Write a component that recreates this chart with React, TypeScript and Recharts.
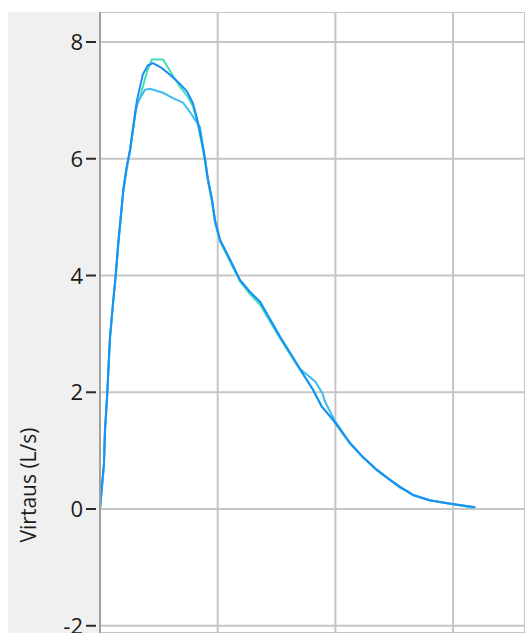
import React from 'react';
import { LineChart, Line, XAxis, YAxis, CartesianGrid } from 'recharts';

// Volume (L) on x, flow (L/s) on y — three expiration attempts
const blueVolume = [0, 0.014, 0.034, 0.042, 0.062, 0.071, 0.085, 0.113, 0.133, 0.155, 0.176, 0.198, 0.227, 0.255, 0.314, 0.365, 0.408, 0.45, 0.52, 0.595, 0.68, 0.74, 0.79, 0.833, 0.875, 0.892, 0.918, 0.952, 0.977, 1.02, 1.105, 1.19, 1.274, 1.36, 1.53, 1.70, 1.81, 1.885, 1.98, 2.124, 2.234, 2.353, 2.464, 2.549, 2.66, 2.80, 2.95, 3.19];
const blueFlow = [0, 0.34, 0.79, 1.35, 2.0, 2.38, 2.95, 3.58, 4.0, 4.56, 5.0, 5.47, 5.86, 6.15, 7.0, 7.45, 7.6, 7.64, 7.56, 7.44, 7.28, 7.15, 6.95, 6.62, 6.2, 6.0, 5.64, 5.3, 4.95, 4.61, 4.27, 3.92, 3.72, 3.55, 2.95, 2.4, 2.04, 1.75, 1.53, 1.13, 0.89, 0.67, 0.5, 0.38, 0.24, 0.15, 0.1, 0.03];

const greenVolume = [0, 0.014, 0.034, 0.042, 0.062, 0.071, 0.085, 0.113, 0.133, 0.155, 0.176, 0.198, 0.227, 0.255, 0.31, 0.34, 0.40, 0.44, 0.535, 0.68, 0.74, 0.79, 0.83, 0.87, 0.892, 0.918, 0.952, 0.977, 1.02, 1.105, 1.19, 1.274, 1.36, 1.53, 1.70, 1.81, 1.885, 1.98, 2.124, 2.234, 2.353, 2.464, 2.549, 2.62, 2.66, 2.80, 2.95, 3.17];
const greenFlow = [0, 0.3, 0.75, 1.3, 1.95, 2.35, 2.9, 3.55, 3.95, 4.5, 4.95, 5.42, 5.82, 6.12, 6.9, 7.05, 7.5, 7.7, 7.7, 7.23, 7.08, 6.9, 6.6, 6.2, 5.95, 5.6, 5.25, 4.9, 4.58, 4.24, 3.9, 3.68, 3.5, 2.92, 2.38, 2.05, 1.76, 1.52, 1.12, 0.88, 0.66, 0.5, 0.36, 0.3, 0.24, 0.15, 0.1, 0.02];

const cyanVolume = [0, 0.014, 0.034, 0.042, 0.062, 0.071, 0.085, 0.113, 0.133, 0.155, 0.176, 0.198, 0.227, 0.255, 0.3, 0.323, 0.382, 0.425, 0.535, 0.62, 0.705, 0.765, 0.807, 0.85, 0.875, 0.892, 0.918, 0.952, 0.977, 1.02, 1.105, 1.19, 1.274, 1.36, 1.53, 1.70, 1.76, 1.83, 1.89, 1.91, 1.99, 2.124, 2.234, 2.353, 2.464, 2.549, 2.66, 2.80, 2.95, 3.18];
const cyanFlow = [0, 0.34, 0.79, 1.35, 2.0, 2.38, 2.95, 3.58, 4.0, 4.56, 5.0, 5.47, 5.86, 6.15, 6.8, 6.97, 7.18, 7.2, 7.13, 7.04, 6.96, 6.8, 6.67, 6.54, 6.2, 6.0, 5.64, 5.3, 4.95, 4.61, 4.27, 3.92, 3.72, 3.55, 2.95, 2.4, 2.3, 2.18, 1.98, 1.85, 1.53, 1.13, 0.89, 0.67, 0.5, 0.38, 0.24, 0.15, 0.1, 0.03];

const yTicks = [-2, 0, 2, 4, 6, 8];
const xTicks = [0, 1, 2, 3];

const toPoints = (vol: number[], flow: number[]) => vol.map((v, i) => ({ v, f: flow[i] }));

const series = [
  { name: 'green', data: toPoints(greenVolume, greenFlow), color: '#3ee0b4' },
  { name: 'cyan', data: toPoints(cyanVolume, cyanFlow), color: '#3bbcf2' },
  { name: 'blue', data: toPoints(blueVolume, blueFlow), color: '#1c8ef5' },
];

const YTick = (props: any) => {
  const { x, y, payload } = props;
  return (
    <g>
      <line x1={x - 14} x2={x - 4} y1={y} y2={y} stroke="#2a2a2a" strokeWidth={2} />
      <text x={x - 17} y={y} dy={8} textAnchor="end" fontSize={22} fill="#1a1a1a" fontFamily="'Open Sans', sans-serif">
        {payload.value}
      </text>
    </g>
  );
};

const EmptyTick = () => <g />;

const YLabel = () => (
  <text
    x={20}
    y={473}
    transform="rotate(-90 20 473)"
    textAnchor="middle"
    dominantBaseline="central"
    fontSize={21}
    fill="#1a1a1a"
    fontFamily="'Open Sans', sans-serif"
  >
    Virtaus (L/s)
  </text>
);

export default function App() {
  return (
    <>
      <style>{`body { margin: 0; overflow: hidden; background: #fff; }`}</style>
      <div style={{ position: 'absolute', left: 8, top: 12, width: 517, height: 621, background: '#f0f0f0' }}>
        <LineChart width={517} height={621} margin={{ top: 0, right: 0, bottom: 0, left: 0 }}>
          <CartesianGrid fill="#ffffff" stroke="#c6c6c6" strokeWidth={2} />
          <XAxis
            type="number"
            dataKey="v"
            domain={[0, 3.611]}
            ticks={xTicks}
            interval={0}
            allowDataOverflow
            height={0}
            axisLine={false}
            tickLine={false}
            tick={<EmptyTick />}
          />
          <YAxis
            type="number"
            dataKey="f"
            domain={[-2.124, 8.514]}
            ticks={yTicks}
            interval={0}
            allowDataOverflow
            width={92}
            tickSize={0}
            tickMargin={0}
            tickLine={false}
            axisLine={{ stroke: '#a0a0a0', strokeWidth: 2 }}
            tick={<YTick />}
            label={<YLabel />}
          />
          {series.map(s => (
            <Line
              key={s.name}
              data={s.data}
              dataKey="f"
              type="linear"
              stroke={s.color}
              strokeWidth={2}
              dot={false}
              isAnimationActive={false}
            />
          ))}
        </LineChart>
      </div>
    </>
  );
}
